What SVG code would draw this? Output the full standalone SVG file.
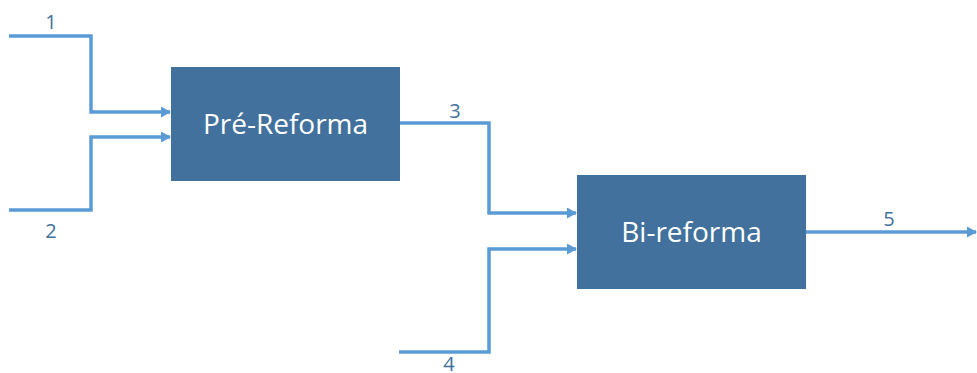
<svg xmlns="http://www.w3.org/2000/svg" width="977" height="373" viewBox="0 0 977 373">
  <style>
    .box { fill: #41719C; }
    .box-label { fill: #ffffff; font-family: "Open Sans", "Liberation Sans", sans-serif; font-size: 28px; text-anchor: middle; }
    .wire { fill: none; stroke: #5B9BD5; stroke-width: 3.5; }
    .num { fill: #41719C; font-family: "Open Sans", "Liberation Sans", sans-serif; font-size: 20px; text-anchor: middle; }
  </style>
  <defs>
    <marker id="arrow" markerWidth="12" markerHeight="12" refX="9" refY="5.5" orient="auto" markerUnits="userSpaceOnUse">
      <path d="M0,0 L10,5.5 L0,11 Z" fill="#5B9BD5"/>
    </marker>
  </defs>
  <rect width="977" height="373" fill="#ffffff"/>

  <g id="connectors">
    <path class="wire" d="M9,36 H91 V112 H170" marker-end="url(#arrow)"/>
    <path class="wire" d="M9,210 H91 V137 H170" marker-end="url(#arrow)"/>
    <path class="wire" d="M400,123 H489 V213 H576" marker-end="url(#arrow)"/>
    <path class="wire" d="M399,352 H489 V249 H576" marker-end="url(#arrow)"/>
    <path class="wire" d="M806,232 H976" marker-end="url(#arrow)"/>
    <text class="num" x="51" y="29">1</text>
    <text class="num" x="51" y="238">2</text>
    <text class="num" x="455" y="118">3</text>
    <text class="num" x="449" y="371">4</text>
    <text class="num" x="889" y="226">5</text>
  </g>

  <g id="pre-reforma">
    <rect class="box" x="171" y="67" width="229" height="114"/>
    <text class="box-label" x="285.5" y="134">Pré-Reforma</text>
  </g>

  <g id="bi-reforma">
    <rect class="box" x="577" y="175" width="229" height="114"/>
    <text class="box-label" x="691.5" y="242">Bi-reforma</text>
  </g>
</svg>
